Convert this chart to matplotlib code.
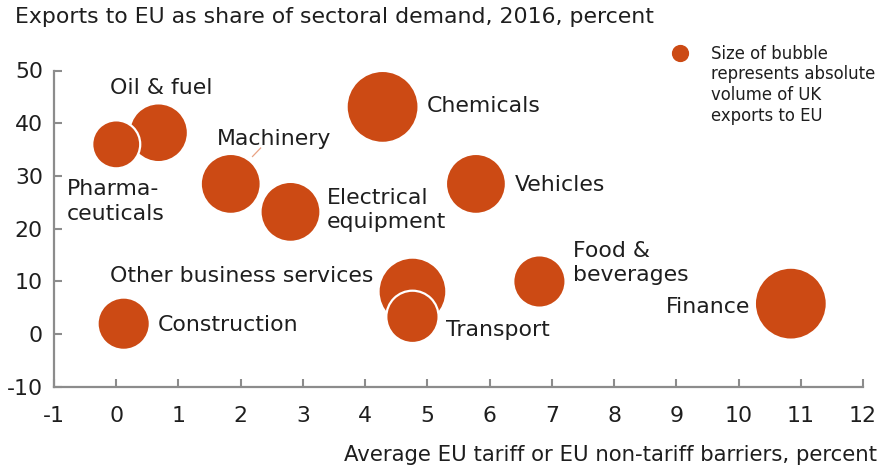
import matplotlib
matplotlib.use("Agg")
import matplotlib.pyplot as plt

plt.rcParams['font.family'] = ['DejaVu Sans']
plt.rcParams['axes.unicode_minus'] = False

# sectors: x = average EU tariff / NTB (%), y = exports to EU as share of demand (%)
sectors = ["Oil & fuel", "Pharma-\nceuticals", "Machinery", "Electrical\nequipment",
           "Chemicals", "Vehicles", "Other business services", "Transport",
           "Food &\nbeverages", "Finance", "Construction"]
barrier = [0.68, 0.0, 1.84, 2.80, 4.28, 5.78, 4.76, 4.76, 6.80, 10.84, 0.12]
eu_share = [38.2, 36.0, 28.5, 23.2, 43.1, 28.5, 8.1, 3.3, 10.0, 5.8, 2.0]
volume = [24, 16, 25, 25, 36, 25, 32, 19, 19, 36, 19]   # relative export volume

xticks = list(range(-1, 13))
yticks = [-10, 0, 10, 20, 30, 40, 50]

orange = "#CC4A14"
grey = "#8C8C8C"
txt = "#1E1E1E"
fs = 15.8

fig = plt.figure(figsize=(8.91, 4.70), dpi=100)
ax = fig.add_axes([0.0606, 0.1766, 0.908, 0.6734])

sizes = [v * 74.6 for v in volume]
ax.scatter(barrier, eu_share, s=sizes, color=orange, edgecolors="white",
           linewidths=1.6, zorder=3, clip_on=False)

# label placement (data coords), alignment
label_pos = {
    "Oil & fuel": (-0.10, 46.6, "left"),
    "Pharma-\nceuticals": (-0.79, 25.2, "left"),
    "Machinery": (1.62, 37.0, "left"),
    "Electrical\nequipment": (3.39, 23.6, "left"),
    "Chemicals": (4.99, 43.2, "left"),
    "Vehicles": (6.40, 28.3, "left"),
    "Other business services": (-0.10, 11.0, "left"),
    "Transport": (5.30, 0.8, "left"),
    "Food &\nbeverages": (7.34, 13.5, "left"),
    "Finance": (10.18, 5.2, "right"),
    "Construction": (0.66, 1.8, "left"),
}
for name in sectors:
    lx, ly, ha = label_pos[name]
    ax.text(lx, ly, name, ha=ha, va="center", fontsize=fs, color=txt,
            linespacing=1.28, zorder=4)

# leader line for Machinery
ax.plot([2.32, 2.19], [35.3, 33.7], color="#E9A283", lw=0.9, zorder=2)

ax.set_xlim(-1, 12)
ax.set_ylim(-10, 50)
ax.set_xticks(xticks)
ax.set_yticks(yticks)
for s in ["top", "right"]:
    ax.spines[s].set_visible(False)
for s in ["left", "bottom"]:
    ax.spines[s].set_color(grey)
    ax.spines[s].set_linewidth(1.6)
ax.tick_params(axis="both", direction="in", length=6, width=1.5, color=grey,
               labelsize=fs, labelcolor=txt)
ax.tick_params(axis="x", pad=14)
ax.tick_params(axis="y", pad=8)

fig.text(0.017, 0.964, "Exports to EU as share of sectoral demand, 2016, percent",
         ha="left", va="center", fontsize=fs, color=txt)
fig.text(0.984, 0.032, "Average EU tariff or EU non-tariff barriers, percent",
         ha="right", va="center", fontsize=15.3, color=txt)

# size legend
ax.scatter([0.774], [1.055], s=130, color=orange, transform=ax.transAxes,
           clip_on=False, zorder=3)
fig.text(0.798, 0.905, "Size of bubble\nrepresents absolute\nvolume of UK\nexports to EU",
         ha="left", va="top", fontsize=11.9, color=txt, linespacing=1.2)

fig.savefig("out.png", dpi=100)
